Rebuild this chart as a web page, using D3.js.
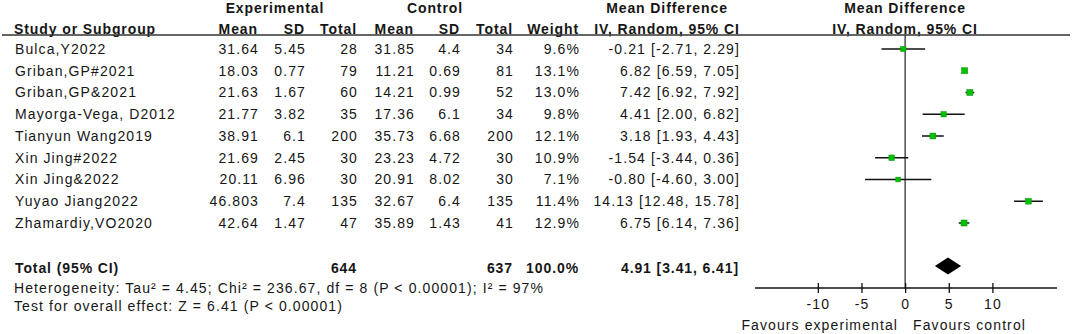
<!DOCTYPE html>
<html><head><meta charset="utf-8">
<script src="https://cdn.jsdelivr.net/npm/d3@7"></script>
<style>
html,body{margin:0;padding:0;background:#fff;}
svg text{font-family:"Liberation Sans",Arial,sans-serif;font-size:14px;fill:#161616;letter-spacing:1.1px;}
svg text.b{font-weight:bold;letter-spacing:0.9px;}
</style></head>
<body>
<svg id="c" width="1072" height="334"></svg>
<script>
const studies = ["Bulca,Y2022","Griban,GP#2021","Griban,GP&2021","Mayorga-Vega, D2012","Tianyun Wang2019","Xin Jing#2022","Xin Jing&2022","Yuyao Jiang2022","Zhamardiy,VO2020"];
const expMean = ["31.64","18.03","21.63","21.77","38.91","21.69","20.11","46.803","42.64"];
const expSD = ["5.45","0.77","1.67","3.82","6.1","2.45","6.96","7.4","1.47"];
const expTotal = [28,79,60,35,200,30,30,135,47];
const ctlMean = ["31.85","11.21","14.21","17.36","35.73","23.23","20.91","32.67","35.89"];
const ctlSD = ["4.4","0.69","0.99","6.1","6.68","4.72","8.02","6.4","1.43"];
const ctlTotal = [34,81,52,34,200,30,30,135,41];
const weight = [9.6,13.1,13.0,9.8,12.1,10.9,7.1,11.4,12.9];
const md = [-0.21,6.82,7.42,4.41,3.18,-1.54,-0.80,14.13,6.75];
const ciLow = [-2.71,6.59,6.92,2.00,1.93,-3.44,-4.60,12.48,6.14];
const ciHigh = [2.29,7.05,7.92,6.82,4.43,0.36,3.00,15.78,7.36];
const total = {exp:644, ctl:637, weight:"100.0%", md:4.91, lo:3.41, hi:6.41};
const tickValues = [-10,-5,0,5,10];
const hetText = "Heterogeneity: Tau\u00B2 = 4.45; Chi\u00B2 = 236.67, df = 8 (P < 0.00001); I\u00B2 = 97%";
const testText = "Test for overall effect: Z = 6.41 (P < 0.00001)";

const svg = d3.select("#c");
const x = d3.scaleLinear().domain([-17.2,17.4]).range([755,1057]);
const y = d3.scalePoint().domain(d3.range(studies.length)).range([49, 49 + 21.75*(studies.length-1)]);
const totalY = 266;
const axisY = 288;
const fmt2 = v => v.toFixed(2);
const ciStr = (m,l,h) => `${fmt2(m)} [${fmt2(l)}, ${fmt2(h)}]`;

function txt(t, xp, yc, anchor, cls){
  return svg.append("text").attr("x", xp).attr("y", yc).attr("dy","0.35em")
    .attr("text-anchor", anchor||"start").attr("class", cls||null).text(t);
}

// headers
txt("Experimental", 275, 8, "middle", "b");
txt("Control", 435, 8, "middle", "b");
txt("Mean Difference", 667, 8, "middle", "b");
txt("Mean Difference", 905, 8, "middle", "b");
txt("Study or Subgroup", 14, 29, "start", "b");
const hdr = [["Mean",258],["SD",305],["Total",357],["Mean",414],["SD",460],["Total",513],["Weight",579]];
hdr.forEach(h => txt(h[0], h[1], 29, "end", "b"));
txt("IV, Random, 95% CI", 667, 29, "middle", "b");
txt("IV, Random, 95% CI", 905, 29, "middle", "b");

svg.append("line").attr("x1",2).attr("x2",1070).attr("y1",35).attr("y2",35)
  .attr("stroke","#333").attr("stroke-width",1.5);

// rows
studies.forEach((s,i) => {
  const yc = y(i);
  txt(s, 15, yc);
  txt(expMean[i], 259, yc, "end");
  txt(expSD[i], 306, yc, "end");
  txt(expTotal[i], 358, yc, "end");
  txt(ctlMean[i], 415, yc, "end");
  txt(ctlSD[i], 461, yc, "end");
  txt(ctlTotal[i], 514, yc, "end");
  txt(weight[i].toFixed(1)+"%", 580, yc, "end");
  txt(ciStr(md[i],ciLow[i],ciHigh[i]), 740, yc, "end");
});

// total row
txt("Total (95% CI)", 15, totalY+2, "start", "b");
txt(total.exp, 357, totalY+2, "end", "b");
txt(total.ctl, 513, totalY+2, "end", "b");
txt(total.weight, 579, totalY+2, "end", "b");
txt(ciStr(total.md,total.lo,total.hi), 739, totalY+2, "end", "b");
txt(hetText, 14, 288);
txt(testText, 14, 306);

// zero line
svg.append("line").attr("x1",x(0)).attr("x2",x(0)).attr("y1",35).attr("y2",axisY)
  .attr("stroke","#333").attr("stroke-width",1.3);

// CI lines and squares
const g = svg.append("g");
g.selectAll("line.ci").data(studies).join("line").attr("class","ci")
  .attr("x1",(d,i)=>x(ciLow[i])).attr("x2",(d,i)=>x(ciHigh[i]))
  .attr("y1",(d,i)=>y(i)).attr("y2",(d,i)=>y(i))
  .attr("stroke","#111").attr("stroke-width",1.5);
const sz = w => 3.2 + 0.22*w;
g.selectAll("rect.pt").data(studies).join("rect").attr("class","pt")
  .attr("x",(d,i)=>x(md[i]) - sz(weight[i])/2)
  .attr("y",(d,i)=>y(i) - sz(weight[i])/2)
  .attr("width",(d,i)=>sz(weight[i])).attr("height",(d,i)=>sz(weight[i]))
  .attr("fill","#00c000").attr("stroke","#109010").attr("stroke-width",0.5);

// diamond
svg.append("path")
  .attr("d", `M${x(total.lo)},${totalY} L${x(total.md)},${totalY-8.5} L${x(total.hi)},${totalY} L${x(total.md)},${totalY+8.5} Z`)
  .attr("fill","#000");

// axis
const axis = d3.axisBottom(x).tickValues(tickValues).tickSize(5).tickFormat(d => String(d));
const ag = svg.append("g").attr("transform",`translate(0,${axisY})`).call(axis);
ag.select(".domain").remove();
ag.selectAll(".tick line").attr("y1",-5).attr("y2",5).attr("stroke","#111").attr("stroke-width",1.3);
ag.selectAll(".tick text").attr("y",11).attr("dy","0.71em")
  .style("font-family","\"Liberation Sans\",Arial,sans-serif").style("font-size","14px")
  .style("letter-spacing","1.1px").attr("fill","#161616");
ag.append("line").attr("x1",x.range()[0]).attr("x2",x.range()[1]).attr("y1",0).attr("y2",0)
  .attr("stroke","#111").attr("stroke-width",1.3);

txt("Favours experimental", 898, 325, "end");
txt("Favours control", 913, 325, "start");
</script>
</body></html>
